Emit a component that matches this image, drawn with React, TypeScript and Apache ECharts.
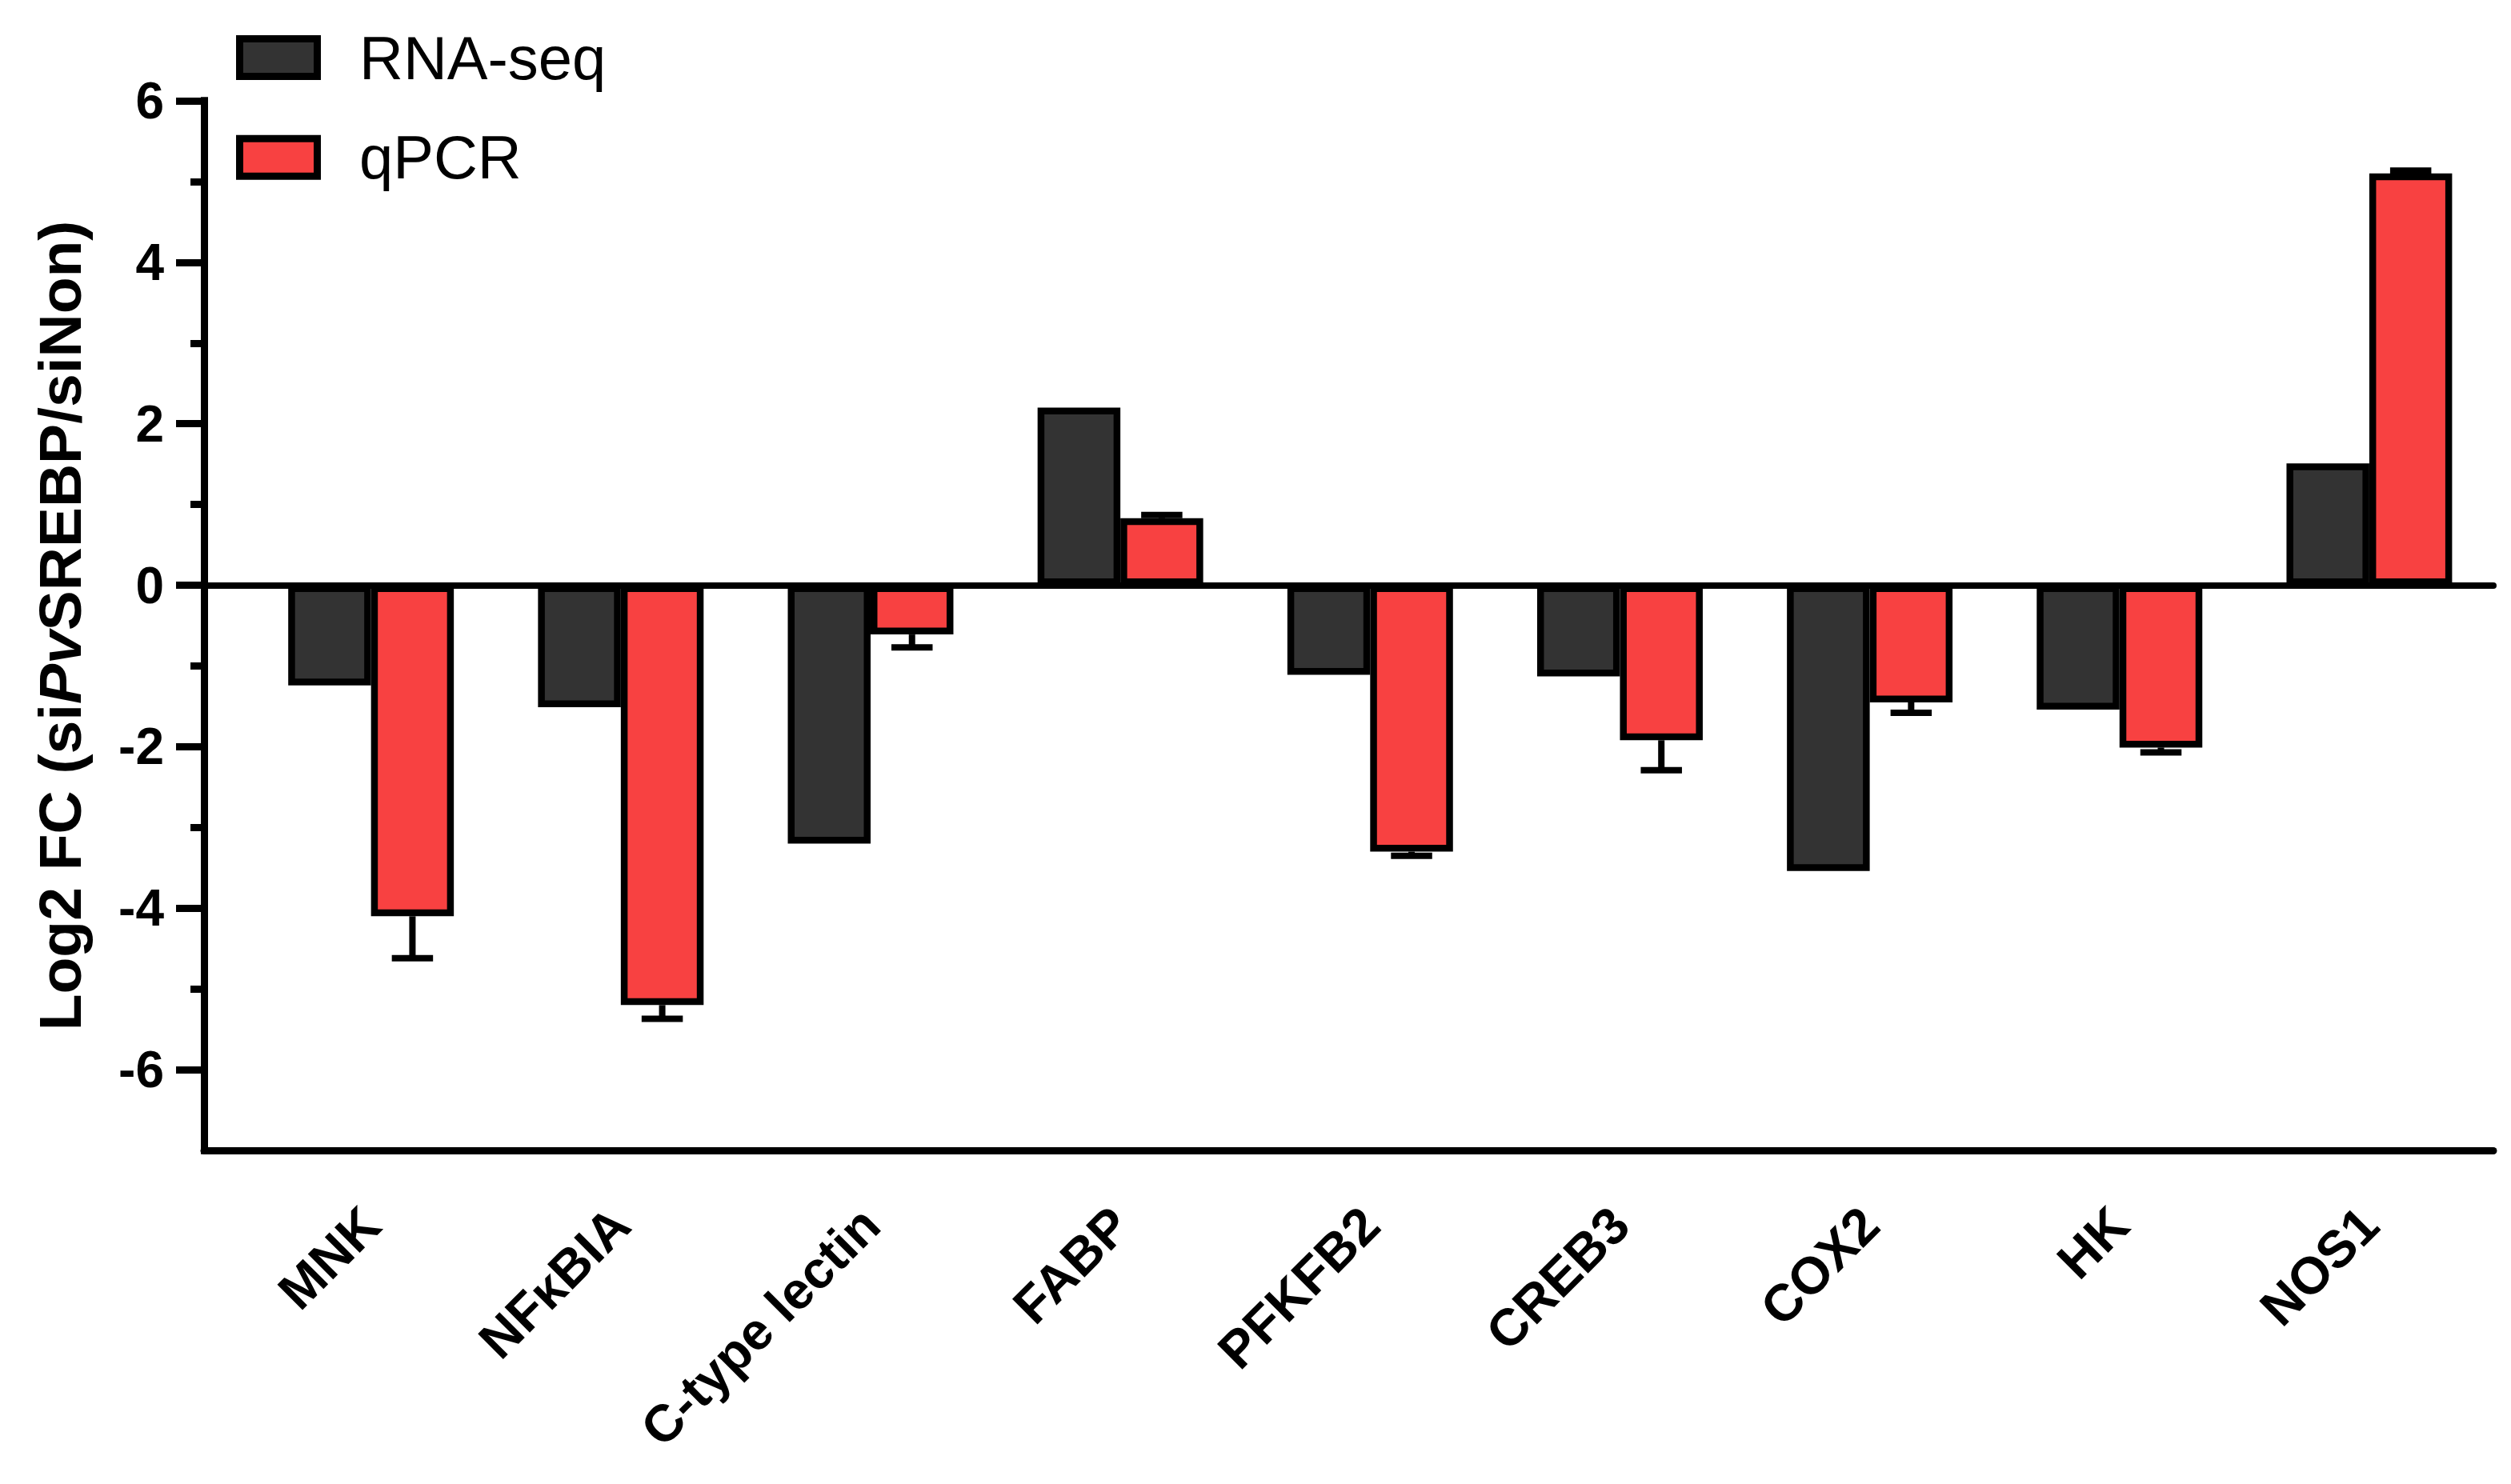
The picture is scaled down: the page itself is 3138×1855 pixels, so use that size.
import React, { useEffect, useRef } from "react";
import * as echarts from "echarts";

const categories = ["MNK", "NFκBIA", "C-type lectin", "FABP", "PFKFB2", "CREB3", "COX2", "HK", "NOS1"];
const rnaSeq = [-1.24, -1.51, -3.2, 2.2, -1.11, -1.13, -3.54, -1.54, 1.51];
const qpcr = [-4.1, -5.2, -0.61, 0.83, -3.3, -1.92, -1.45, -2.01, 5.1];
const qpcrErr = [0.52, 0.17, 0.16, 0.04, 0.05, 0.37, 0.13, 0.06, 0.035];
const yMajorTicks = [-6, -4, -2, 0, 2, 4, 6];
const yMinorTicks = [-5, -3, -1, 1, 3, 5];
const seriesNames = ["RNA-seq", "qPCR"];
const seriesColors = ["#333333", "#F84141"];

const FONT = "'Liberation Sans', Arial, Helvetica, sans-serif";
const BAR_W = 0.3315; // fraction of category band (outer width; ECharts draws border inside)
const CAP_W = 0.165; // fraction of category band
const LINE_W = 9;

export default function App() {
  const ref = useRef<HTMLDivElement>(null);

  useEffect(() => {
    if (!ref.current) return;
    const chart = echarts.init(ref.current, null, { renderer: "svg" });
    const axisLineStyle = { color: "#000", width: LINE_W };

    const legendBox = (color: string) => ({
      width: 88,
      height: 38,
      backgroundColor: color,
      borderColor: "#000",
      borderWidth: 9,
      verticalAlign: "middle",
    });

    const option: any = {
      animation: false,
      backgroundColor: "#fff",
      grid: [
        { left: 255, right: 22, top: 126, bottom: 417, outerBoundsMode: "none" },
        { left: 307.6, right: 21, top: 126, bottom: 417, outerBoundsMode: "none" },
      ],
      legend: {
        orient: "vertical",
        left: 290,
        top: 27,
        itemWidth: 0,
        itemHeight: 0,
        itemGap: 44.8,
        icon: "none",
        selectedMode: false,
        data: seriesNames,
        formatter: (name: string) => `{k${seriesNames.indexOf(name)}|}{t|${name}}`,
        textStyle: {
          fontSize: 76,
          fontFamily: FONT,
          color: "#000",
          lineHeight: 80,
          rich: {
            k0: legendBox(seriesColors[0]),
            k1: legendBox(seriesColors[1]),
            t: {
              fontSize: 76,
              fontFamily: FONT,
              color: "#000",
              lineHeight: 80,
              padding: [0, 0, 0, 57],
              verticalAlign: "middle",
            },
          },
        },
      },
      xAxis: [
        {
          gridIndex: 0,
          type: "value",
          min: 0,
          max: 1,
          position: "bottom",
          axisLine: { show: true, onZero: false, lineStyle: axisLineStyle },
          axisTick: { show: false },
          axisLabel: { show: false },
          splitLine: { show: false },
        },
        {
          gridIndex: 0,
          type: "value",
          min: 0,
          max: 1,
          position: "top",
          axisLine: { show: true, onZero: true, lineStyle: { color: "#000", width: 8 } },
          axisTick: { show: false },
          axisLabel: { show: false },
          splitLine: { show: false },
        },
        {
          gridIndex: 1,
          type: "category",
          data: categories,
          position: "bottom",
          axisLine: { show: false, onZero: false },
          axisTick: { show: false },
          axisLabel: {
            interval: 0,
            rotate: 45,
            margin: 82,
            fontSize: 65,
            fontWeight: "bold",
            fontFamily: FONT,
            color: "#000",
          },
          splitLine: { show: false },
        },
      ],
      yAxis: [
        {
          gridIndex: 0,
          type: "value",
          position: "left",
          min: -7,
          max: 6,
          interval: 1,
          axisLine: { show: true, lineStyle: { ...axisLineStyle, cap: "square" } },
          axisTick: { show: true, customValues: yMajorTicks, length: 35, lineStyle: { color: "#000", width: LINE_W } },
          axisLabel: {
            customValues: yMajorTicks,
            margin: 50,
            fontSize: 64,
            fontWeight: "bold",
            fontFamily: FONT,
            color: "#000",
          },
          splitLine: { show: false },
          name: "{a|Log2 FC (si}{b|Pv}{a|SREBP/siNon)}",
          nameLocation: "middle",
          nameGap: 143,
          nameRotate: 90,
          nameTextStyle: {
            color: "#000",
            fontSize: 75,
            fontWeight: "bold",
            fontFamily: FONT,
            rich: {
              a: { fontSize: 75, fontWeight: "bold", fontFamily: FONT, color: "#000" },
              b: { fontSize: 75, fontWeight: "bold", fontStyle: "italic", fontFamily: FONT, color: "#000" },
            },
          },
        },
        {
          gridIndex: 0,
          type: "value",
          position: "left",
          min: -7,
          max: 6,
          interval: 1,
          axisLine: { show: true, lineStyle: { ...axisLineStyle, cap: "square" } },
          axisTick: { show: true, customValues: yMinorTicks, length: 17, lineStyle: { color: "#000", width: LINE_W } },
          axisLabel: { show: false },
          splitLine: { show: false },
        },
        {
          gridIndex: 1,
          type: "value",
          min: -7,
          max: 6,
          interval: 1,
          show: false,
          splitLine: { show: false },
        },
      ],
      series: [
        {
          name: seriesNames[0],
          type: "bar",
          xAxisIndex: 2,
          yAxisIndex: 2,
          data: rnaSeq,
          barWidth: `${BAR_W * 100}%`,
          barGap: "0%",
          itemStyle: { color: seriesColors[0], borderColor: "#000", borderWidth: 8.5 },
        },
        {
          name: seriesNames[1],
          type: "bar",
          xAxisIndex: 2,
          yAxisIndex: 2,
          data: qpcr,
          barWidth: `${BAR_W * 100}%`,
          barGap: "0%",
          itemStyle: { color: seriesColors[1], borderColor: "#000", borderWidth: 8.5 },
        },
        {
          name: "qPCR error",
          type: "custom",
          xAxisIndex: 2,
          yAxisIndex: 2,
          z: 3,
          clip: false,
          encode: { x: 0, y: 1 },
          data: qpcr.map((v, i) => [i, v, qpcrErr[i]]),
          renderItem: (params: any, api: any) => {
            const i = api.value(0);
            const v = api.value(1);
            const e = api.value(2);
            const band = api.size([1, 0])[0];
            const base = api.coord([i, v]);
            const endVal = v >= 0 ? v + e : v - e;
            const end = api.coord([i, endVal]);
            const x = base[0] + (band * BAR_W) / 2;
            const capHalf = (band * CAP_W) / 2;
            const style = { stroke: "#000", lineWidth: 8, lineCap: "butt" };
            return {
              type: "group",
              children: [
                { type: "line", shape: { x1: x, y1: base[1], x2: x, y2: end[1] }, style },
                { type: "line", shape: { x1: x - capHalf, y1: end[1], x2: x + capHalf, y2: end[1] }, style },
              ],
            };
          },
        },
      ],
    };

    chart.setOption(option);
    return () => chart.dispose();
  }, []);

  return (
    <div
      ref={ref}
      style={{ position: "fixed", left: 0, top: 0, width: "3138px", height: "1855px", background: "#fff" }}
    />
  );
}
